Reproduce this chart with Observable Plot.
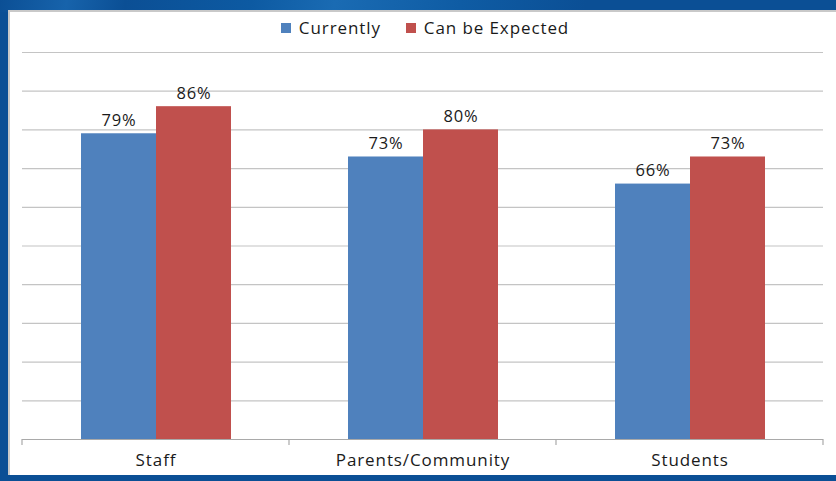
<!DOCTYPE html>
<html>
<head>
<meta charset="utf-8">
<script src="https://cdn.jsdelivr.net/npm/d3@7"></script>
<script src="https://cdn.jsdelivr.net/npm/@observablehq/plot@0.6"></script>
<style>
  html, body { margin: 0; padding: 0; }
  body { width: 836px; height: 481px; background: #0b4f95; position: relative; overflow: hidden;
         font-family: "Open Sans", sans-serif; }
  #bgstreak { position: absolute; left: 0; top: 0; width: 836px; height: 12px;
    background: linear-gradient(100deg, #0b4f95 0%, #1763ab 8%, #0b4f95 15%, #0d5aa2 30%, #1a6bb3 40%, #0f5ca4 55%, #0b4f95 70%); }
  #panel { position: absolute; left: 8px; top: 10px; width: 828px; height: 465px; background: #fff;
           border-top: 2px solid #c9c9c9; border-left: 2px solid #c9c9c9; box-sizing: border-box; }
  #legend { position: absolute; left: 0; top: 16px; width: 850px; display: flex; justify-content: center;
            gap: 25px; font-size: 17px; letter-spacing: 0.9px; color: #1a1a1a; }
  #legend span.item { display: flex; align-items: center; gap: 8px; }
  #legend span.sw { width: 10px; height: 10px; display: inline-block; }
  #chart { position: absolute; left: 0; top: 40px; }
</style>
</head>
<body>
<div id="bgstreak"></div>
<div id="panel"></div>
<div id="legend"></div>
<div id="chart"></div>
<script>
const categories = ["Staff", "Parents/Community", "Students"];
const series = ["Currently", "Can be Expected"];
const currently = [79, 73, 66];
const expected = [86, 80, 73];
const colors = ["#4f81bd", "#c0504d"];
const gridTicks = [10, 20, 30, 40, 50, 60, 70, 80, 90, 100];

const data = [];
categories.forEach((c, i) => {
  data.push({category: c, series: series[0], value: currently[i]});
  data.push({category: c, series: series[1], value: expected[i]});
});

// legend
const legend = document.getElementById("legend");
series.forEach((s, i) => {
  const it = document.createElement("span");
  it.className = "item";
  it.innerHTML = `<span class="sw" style="background:${colors[i]}"></span><span>${s}</span>`;
  legend.appendChild(it);
});

const fontSize = 17;
const plot = Plot.plot({
  width: 836,
  height: 435,
  marginLeft: 21,
  marginRight: 13,
  marginTop: 12,
  marginBottom: 36,
  style: {background: "transparent", fontFamily: "Open Sans, sans-serif", fontSize: fontSize + "px", color: "#1a1a1a"},
  fx: {domain: categories, padding: 0, label: null},
  x: {domain: series, paddingInner: 0, paddingOuter: 0.757, axis: null},
  y: {domain: [0, 100], axis: null},
  color: {domain: series, range: colors},
  marks: [
    Plot.ruleY(gridTicks, {stroke: "#c4c4c4", strokeWidth: 1.2}),
    Plot.barY(data, {fx: "category", x: "series", y: "value", fill: "series"}),
    Plot.text(data, {fx: "category", x: "series", y: "value", text: d => d.value + "%", dy: -13,
      fontSize: 16.5, fill: "#1a1a1a"}),
    Plot.ruleY([0], {stroke: "#a9a9a9", strokeWidth: 1.2}),
    Plot.axisFx({tickSize: 0, tickPadding: 14, fontSize: fontSize, label: null, anchor: "bottom"})
  ]
});
d3.select(plot).selectAll("text").attr("letter-spacing", "0.9px");
document.getElementById("chart").appendChild(plot);

// separator ticks at category band edges, from the fx scale
const fx = plot.scale("fx");
const yS = plot.scale("y");
const y0 = yS.apply(0);
const edges = categories.map(c => fx.apply(c)).concat([fx.apply(categories[categories.length - 1]) + fx.bandwidth]);
d3.select(plot).append("g")
  .selectAll("line").data(edges).join("line")
  .attr("x1", d => d).attr("x2", d => d)
  .attr("y1", y0).attr("y2", y0 + 6)
  .attr("stroke", "#a9a9a9").attr("stroke-width", 1.2);
</script>
</body>
</html>
